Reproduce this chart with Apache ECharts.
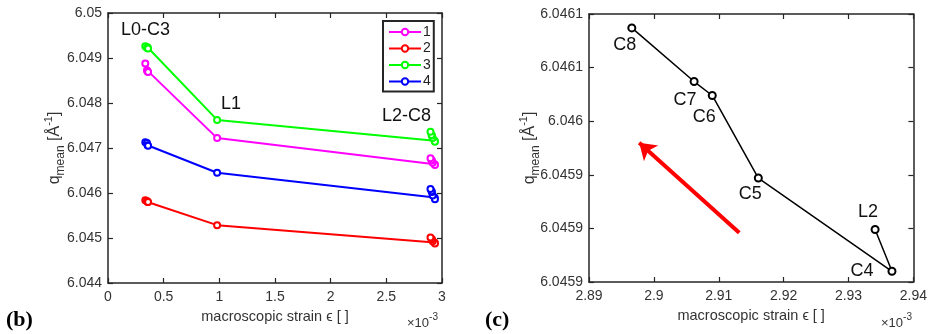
<!DOCTYPE html>
<html>
<head>
<meta charset="utf-8">
<script src="https://cdn.jsdelivr.net/npm/echarts@6/dist/echarts.min.js"></script>
<style>
  html, body { margin: 0; padding: 0; background: #fff; }
  #chart { width: 930px; height: 334px; }
</style>
</head>
<body>
<div id="chart"></div>
<script>
// strain (x10^-3) for the steps L0, C1, C2, C3, L1, L2, C4, C5, C6, C7, C8
var steps = ['L0', 'C1', 'C2', 'C3', 'L1', 'L2', 'C4', 'C5', 'C6', 'C7', 'C8'];
var strain = [0.335, 0.35, 0.355, 0.36, 0.98, 2.9341, 2.9367, 2.9161, 2.9090, 2.9062, 2.8966];

// q_mean [1/A] per peak
var peak1 = [6.04888, 6.04873, 6.04870, 6.04869, 6.04722, 6.04664, 6.04662, 6.04667, 6.04672, 6.04673, 6.04677];
var peak2 = [6.04584, 6.04582, 6.04580, 6.04580, 6.045285, 6.04490, 6.04488, 6.04493, 6.04497, 6.04498, 6.04501];
var peak3 = [6.04926, 6.04922, 6.04924, 6.04921, 6.047624, 6.04716, 6.04714, 6.04722, 6.04728, 6.04729, 6.04736];
var peak4 = [6.04713, 6.04711, 6.04706, 6.04705, 6.04645, 6.045899, 6.04586, 6.045947, 6.046024, 6.046037, 6.046087];

var seriesNames = ['1', '2', '3', '4'];
var seriesColors = ['#ff00ff', '#ff0000', '#00ff00', '#0000ff'];

// tick labels
var xTicksB = ['0', '0.5', '1', '1.5', '2', '2.5', '3'];
var yTicksB = ['6.044', '6.045', '6.046', '6.047', '6.048', '6.049', '6.05'];
var xTicksC = ['2.89', '2.9', '2.91', '2.92', '2.93', '2.94'];
var yTicksC = ['6.0459', '6.0459', '6.0459', '6.046', '6.0461', '6.0461'];

// zoomed panel (c): steps L2..C8 of peak 4
var zoomFrom = 5;

// red arrow in panel (c), tail -> head
var arrowTail = [2.91316, 6.045896];
var arrowHead = [2.89774, 6.04598];

var FONT = '"Liberation Sans", Arial, sans-serif';
var AXIS_COLOR = '#262626';
var LABEL_COLOR = '#333';

function pairs(xs, ys) {
  return xs.map(function (x, i) { return [x, ys[i]]; });
}

function tickFmt(labels, min, step) {
  return function (v) {
    var i = Math.round((v - min) / step);
    return labels[i] !== undefined ? labels[i] : '';
  };
}

function makeAxis(opts) {
  return Object.assign({
    type: 'value',
    axisLine: { show: true, onZero: false, lineStyle: { color: AXIS_COLOR, width: 1.5 } },
    axisTick: { show: true, inside: true, length: 5, lineStyle: { color: AXIS_COLOR, width: 1.2 } },
    splitLine: { show: false },
    axisLabel: { show: false }
  }, opts);
}

var yName = {
  text: '{n|q}{s|mean}{n| [Å}{p|-1}{n|]}',
  rich: {
    n: { fontSize: 16, fontFamily: FONT, color: LABEL_COLOR, lineHeight: 24, verticalAlign: 'middle' },
    s: { fontSize: 12, fontFamily: FONT, color: LABEL_COLOR, lineHeight: 24, verticalAlign: 'bottom' },
    p: { fontSize: 11, fontFamily: FONT, color: LABEL_COLOR, lineHeight: 24, verticalAlign: 'top' }
  }
};

var tickLabel = function (fmt, margin) {
  return { show: true, color: LABEL_COLOR, fontSize: 14, fontFamily: FONT, margin: margin, formatter: fmt };
};

var xNameStyle = { color: LABEL_COLOR, fontSize: 14.5, fontFamily: FONT };

// label offsets for panel (c) points, keyed by step name
var labelOffsetC = {
  L2: [-7, -17], C4: [-30, 0], C5: [-8, 16], C6: [-8, 22], C7: [-9, 18], C8: [-7, 17]
};

var chartDom = document.getElementById('chart');
var myChart = echarts.init(chartDom);

var peaks = [peak1, peak2, peak3, peak4];
var seriesB = peaks.map(function (p, i) {
  return {
    name: seriesNames[i],
    type: 'line',
    xAxisIndex: 0,
    yAxisIndex: 0,
    data: pairs(strain, p),
    symbol: 'emptyCircle',
    symbolSize: 6,
    color: seriesColors[i],
    lineStyle: { width: 2, color: seriesColors[i] },
    itemStyle: { color: seriesColors[i], borderWidth: 1.5 },
    z: 10 - i
  };
});

var zoomData = pairs(strain.slice(zoomFrom), peak4.slice(zoomFrom)).map(function (pt, i) {
  var name = steps[zoomFrom + i];
  return {
    value: pt,
    name: name,
    label: {
      show: true,
      position: 'inside',
      offset: labelOffsetC[name],
      formatter: name,
      color: '#111',
      fontSize: 18,
      fontFamily: FONT
    }
  };
});

var option = {
  animation: false,
  backgroundColor: '#fff',
  grid: [
    { left: 108, top: 13, width: 334, height: 270 },
    { left: 589, top: 14, width: 328, height: 268 }
  ],
  legend: {
    data: seriesNames,
    orient: 'vertical',
    left: 383,
    top: 21,
    itemWidth: 32,
    itemHeight: 8,
    itemGap: 2.5,
    padding: [4, 3, 3, 5],
    borderColor: AXIS_COLOR,
    borderWidth: 2,
    selectedMode: false,
    textStyle: { fontSize: 14, lineHeight: 14, color: '#222', fontFamily: FONT, padding: [0, 0, 0, -3] }
  },
  xAxis: [
    makeAxis({
      gridIndex: 0, position: 'bottom', min: 0, max: 3, interval: 0.5,
      axisLabel: tickLabel(tickFmt(xTicksB, 0, 0.5), 7),
      name: 'macroscopic strain \u03f5 [ ]', nameLocation: 'middle', nameGap: 26,
      nameMoveOverlap: false,
      nameTextStyle: xNameStyle
    }),
    makeAxis({ gridIndex: 0, position: 'top', min: 0, max: 3, interval: 0.5 }),
    makeAxis({
      gridIndex: 1, position: 'bottom', min: 2.89, max: 2.94, interval: 0.01,
      axisLabel: tickLabel(tickFmt(xTicksC, 2.89, 0.01), 7),
      name: 'macroscopic strain \u03f5 [ ]', nameLocation: 'middle', nameGap: 26,
      nameMoveOverlap: false,
      nameTextStyle: xNameStyle
    }),
    makeAxis({ gridIndex: 1, position: 'top', min: 2.89, max: 2.94, interval: 0.01 })
  ],
  yAxis: [
    makeAxis({
      gridIndex: 0, position: 'left', min: 6.044, max: 6.05, interval: 0.001,
      axisLabel: tickLabel(tickFmt(yTicksB, 6.044, 0.001), 6),
      name: yName.text, nameLocation: 'middle', nameGap: 41, nameRotate: 90,
      nameMoveOverlap: false,
      nameTextStyle: { rich: yName.rich }
    }),
    makeAxis({ gridIndex: 0, position: 'right', min: 6.044, max: 6.05, interval: 0.001 }),
    makeAxis({
      gridIndex: 1, position: 'left', min: 6.04585, max: 6.0461, interval: 0.00005,
      axisLabel: tickLabel(tickFmt(yTicksC, 6.04585, 0.00005), 6),
      name: yName.text, nameLocation: 'middle', nameGap: 47, nameRotate: 90,
      nameMoveOverlap: false,
      nameTextStyle: { rich: yName.rich }
    }),
    makeAxis({ gridIndex: 1, position: 'right', min: 6.04585, max: 6.0461, interval: 0.00005 })
  ],
  series: seriesB.concat([
    {
      name: 'zoom',
      type: 'line',
      xAxisIndex: 2,
      yAxisIndex: 2,
      data: zoomData,
      symbol: 'emptyCircle',
      symbolSize: 7,
      lineStyle: { width: 1.5, color: '#000' },
      itemStyle: { color: '#000', borderWidth: 1.5 },
      z: 5
    },
    {
      name: 'arrow',
      type: 'lines',
      coordinateSystem: 'cartesian2d',
      xAxisIndex: 2,
      yAxisIndex: 2,
      symbol: ['none', 'arrow'],
      symbolSize: [0, 16],
      lineStyle: { color: '#ff0000', width: 4, opacity: 1 },
      data: [{ coords: [arrowTail, arrowHead] }],
      z: 4
    }
  ]),
  graphic: [
    { type: 'text', left: 121, top: 21, style: { text: 'L0-C3', fontSize: 18, fontFamily: FONT, fill: '#111' } },
    { type: 'text', left: 221, top: 95, style: { text: 'L1', fontSize: 18, fontFamily: FONT, fill: '#111' } },
    { type: 'text', left: 382, top: 107, style: { text: 'L2-C8', fontSize: 18, fontFamily: FONT, fill: '#111' } },
    {
      type: 'text', left: 407, top: 312,
      style: {
        text: '{a|\u00d710}{b|-3}',
        rich: {
          a: { fontSize: 13, fontFamily: FONT, fill: LABEL_COLOR, lineHeight: 18, verticalAlign: 'bottom' },
          b: { fontSize: 10, fontFamily: FONT, fill: LABEL_COLOR, lineHeight: 18, verticalAlign: 'top' }
        }
      }
    },
    {
      type: 'text', left: 881, top: 312,
      style: {
        text: '{a|\u00d710}{b|-3}',
        rich: {
          a: { fontSize: 13, fontFamily: FONT, fill: LABEL_COLOR, lineHeight: 18, verticalAlign: 'bottom' },
          b: { fontSize: 10, fontFamily: FONT, fill: LABEL_COLOR, lineHeight: 18, verticalAlign: 'top' }
        }
      }
    },
    { type: 'text', left: 6, top: 309, style: { text: '(b)', fontSize: 22, fontWeight: 'bold', fontFamily: '"Liberation Serif", "Times New Roman", serif', fill: '#000' } },
    { type: 'text', left: 485, top: 309, style: { text: '(c)', fontSize: 22, fontWeight: 'bold', fontFamily: '"Liberation Serif", "Times New Roman", serif', fill: '#000' } }
  ]
};

option && myChart.setOption(option);
</script>
</body>
</html>
